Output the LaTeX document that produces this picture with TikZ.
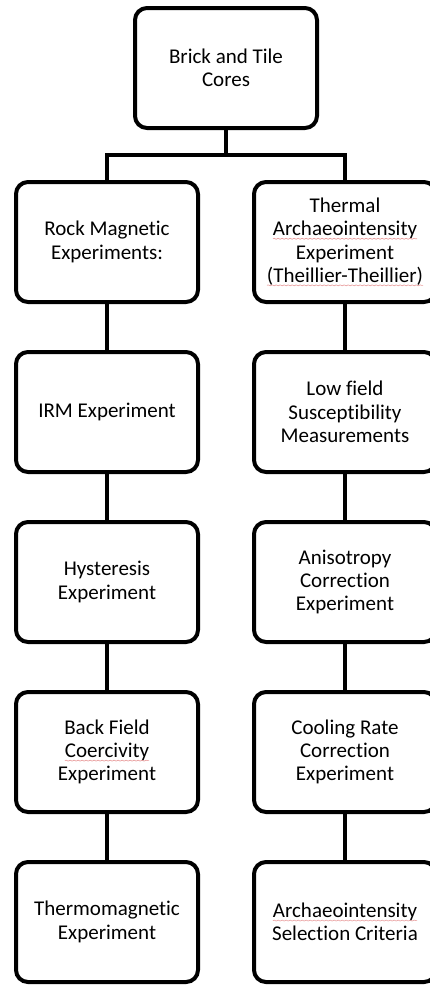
\documentclass[tikz,border=0pt]{standalone}
\usepackage{fontspec}
\setmainfont{Carlito}[Ligatures=NoCommon]
\usepackage{xcolor}
\usetikzlibrary{decorations.pathmorphing}
\definecolor{spellred}{HTML}{E89A9A}
\newcommand{\spellmark}[1]{\tikz[baseline=(w.base)]{%
  \node[draw=none, inner sep=0pt, outer sep=0pt, minimum width=0pt,
    minimum height=0pt, rounded corners=0pt] (w) {#1};
  \draw[spellred, line width=0.6pt, rounded corners=0pt, decorate,
    decoration={snake, amplitude=0.5pt, segment length=4pt}]
    ([yshift=-3pt]w.base west) -- ([yshift=-3pt]w.base east);}}

\begin{document}
\begin{tikzpicture}[x=1pt, y=-1pt,
    stepbox/.style={draw=black, line width=4pt, rounded corners=12pt,
      minimum width=182pt, minimum height=120pt, inner sep=0pt,
      align=center, font=\fontsize{21}{23.3}\selectfont},
    link/.style={draw=black, line width=4pt}]
  \useasboundingbox (0, 0) rectangle (430, 986);

  \node[stepbox] (cores) at (226, 68) {Brick and Tile\\Cores};

  % left column
  \node[stepbox] (rock) at (107, 242) {Rock Magnetic\\Experiments:};
  \node[stepbox] (irm) at (107, 412) {IRM Experiment};
  \node[stepbox] (hyst) at (107, 582) {Hysteresis\\Experiment};
  \node[stepbox] (backfield) at (107, 752)
    {Back Field\\\spellmark{Coercivity}\\Experiment};
  \node[stepbox] (thermo) at (107, 922) {Thermomagnetic\\Experiment};

  % right column
  \node[stepbox] (thermal) at (345, 242)
    {Thermal\\\spellmark{Archaeointensity}\\Experiment\\
     \spellmark{(Theillier-Theillier)}};
  \node[stepbox] (lowfield) at (345, 412)
    {Low field\\Susceptibility\\Measurements};
  \node[stepbox] (aniso) at (345, 582) {Anisotropy\\Correction\\Experiment};
  \node[stepbox] (cooling) at (345, 752)
    {Cooling Rate\\Correction\\Experiment};
  \node[stepbox] (criteria) at (345, 922)
    {\spellmark{Archaeointensity}\\Selection Criteria};

  \coordinate (split) at (226, 155);
  \draw[link] (cores) -- (split);
  \draw[link] (rock) |- (split) -| (thermal);

  \foreach \a/\b in {rock/irm, irm/hyst, hyst/backfield, backfield/thermo,
      thermal/lowfield, lowfield/aniso, aniso/cooling, cooling/criteria}
    \draw[link] (\a) -- (\b);
\end{tikzpicture}
\end{document}
